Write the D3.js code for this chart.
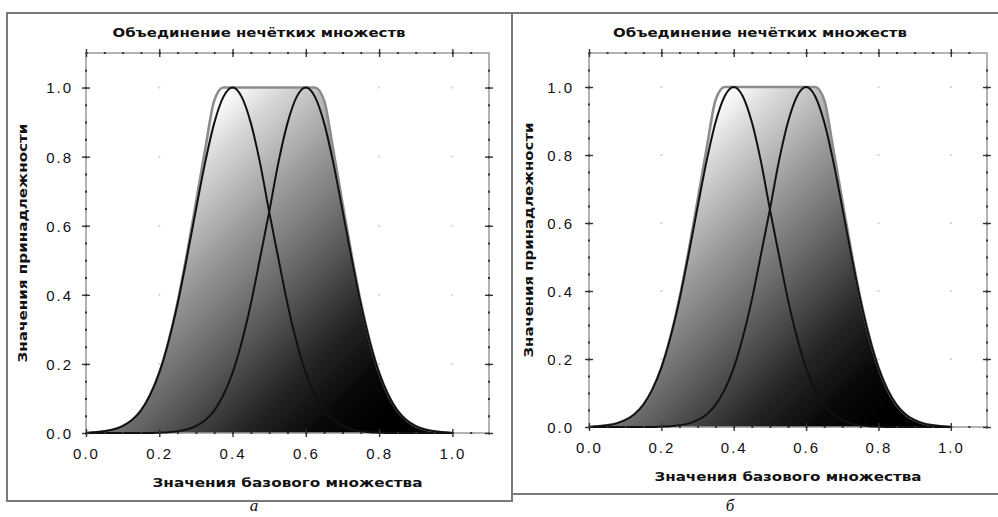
<!DOCTYPE html>
<html>
<head>
<meta charset="utf-8">
<script src="https://cdn.jsdelivr.net/npm/d3@7"></script>
<style>
  body { margin: 0; background: #fff; }
  svg { display: block; }
</style>
</head>
<body>
<svg id="chart" width="998" height="517"></svg>
<script>
// values (step 0.025 along the base set)
var xValues = [0, 0.025, 0.05, 0.075, 0.1, 0.125, 0.15, 0.175, 0.2, 0.225,
               0.25, 0.275, 0.3, 0.325, 0.35, 0.375, 0.4, 0.425, 0.45, 0.475,
               0.5, 0.525, 0.55, 0.575, 0.6, 0.625, 0.65, 0.675, 0.7, 0.725,
               0.75, 0.775, 0.8, 0.825, 0.85, 0.875, 0.9, 0.925, 0.95, 0.975, 1.0];
// set A, peak at 0.4
var setA = [0, 0.002, 0.005, 0.010, 0.020, 0.037, 0.065, 0.110, 0.174, 0.263,
            0.374, 0.506, 0.646, 0.782, 0.897, 0.973, 1.000, 0.973, 0.897, 0.782,
            0.640, 0.506, 0.374, 0.263, 0.174, 0.110, 0.065, 0.037, 0.020, 0.010,
            0.005, 0.002, 0.001, 0, 0, 0, 0, 0, 0, 0, 0];
// set B, peak at 0.6
var setB = [0, 0, 0, 0, 0, 0, 0, 0, 0.001, 0.002,
            0.005, 0.010, 0.020, 0.037, 0.065, 0.110, 0.174, 0.263, 0.374, 0.506,
            0.640, 0.782, 0.897, 0.973, 1.000, 0.973, 0.897, 0.782, 0.646, 0.506,
            0.374, 0.263, 0.174, 0.110, 0.065, 0.037, 0.020, 0.010, 0.005, 0.002, 0];
// union of A and B (shaded region)
var unionAB = [0, 0.002, 0.005, 0.010, 0.020, 0.037, 0.065, 0.110, 0.175, 0.265,
               0.379, 0.516, 0.666, 0.819, 0.962, 1, 1, 1, 1, 1,
               1, 1, 1, 1, 1, 1, 0.962, 0.819, 0.666, 0.516,
               0.379, 0.265, 0.175, 0.110, 0.065, 0.037, 0.020, 0.010, 0.005, 0.002, 0];

var majorTicks = [0.0, 0.2, 0.4, 0.6, 0.8, 1.0];
var minorTicks = [0, 0.05, 0.1, 0.15, 0.2, 0.25, 0.3, 0.35, 0.4, 0.45, 0.5,
                  0.55, 0.6, 0.65, 0.7, 0.75, 0.8, 0.85, 0.9, 0.95, 1.0, 1.05];
var gridValues = [0.2, 0.4, 0.6, 0.8, 1.0];

var titleText = "Объединение нечётких множеств";
var xLabelText = "Значения базового множества";
var yLabelText = "Значения принадлежности";
var captions = ["а", "б"];

// gradient colour stops (light at the upper left, black at the lower right)
var gradStops = [[0, "#fbfbfb"], [0.1, "#d8d8d8"], [0.3, "#9d9d9d"], [0.5, "#666"],
                 [0.72, "#272727"], [0.88, "#080808"], [1, "#000"]];

var svg = d3.select("#chart");

var points = xValues.map(function(x, i) {
    return {x: x, a: setA[i], b: setB[i], u: unionAB[i]};
});

// layout of the two panels
var panels = [
    {left: 86, right: 489, top: 53, bottom: 433, frame: [7, 13, 505, 488],
     titleX: 259, titleW: 293, yLabelX: 22, xLabelW: 270, yLabelW: 239,
     capX: 254, tickOff: 13},
    {left: 589, right: 987, top: 53, bottom: 427, frame: [512, 13, 500, 481],
     titleX: 760, titleW: 294, yLabelX: 528, xLabelW: 267, yLabelW: 235,
     capX: 730, tickOff: 15}
];

var defs = svg.append("defs");

panels.forEach(function(p, k) {
    var x = d3.scaleLinear().domain([0, 1.1]).range([p.left, p.right]);
    var y = d3.scaleLinear().domain([0, 1.1]).range([p.bottom, p.top]);

    // outer frame
    svg.append("rect")
        .attr("x", p.frame[0]).attr("y", p.frame[1])
        .attr("width", p.frame[2]).attr("height", p.frame[3])
        .attr("fill", "none")
        .attr("stroke", "#7a7a7a")
        .attr("stroke-width", 2);

    var g = svg.append("g");

    // faint grid dots at major intersections
    gridValues.forEach(function(gx) {
        gridValues.forEach(function(gy) {
            g.append("rect")
                .attr("x", x(gx) - 1).attr("y", y(gy) - 1)
                .attr("width", 2).attr("height", 2)
                .attr("fill", "#d4d4d4");
        });
    });

    // gradient
    var grad = defs.append("linearGradient")
        .attr("id", "grad" + k)
        .attr("gradientUnits", "userSpaceOnUse")
        .attr("x1", x(0.38)).attr("y1", y(0.97))
        .attr("x2", x(1.035)).attr("y2", y(0.275));
    gradStops.forEach(function(s) {
        grad.append("stop").attr("offset", s[0]).attr("stop-color", s[1]);
    });

    var area = d3.area()
        .x(function(d) { return x(d.x); })
        .y0(y(0))
        .y1(function(d) { return y(d.u); })
        .curve(d3.curveMonotoneX);

    g.append("path")
        .datum(points)
        .attr("d", area)
        .attr("fill", "url(#grad" + k + ")");

    // plot box
    g.append("rect")
        .attr("x", p.left).attr("y", p.top)
        .attr("width", p.right - p.left).attr("height", p.bottom - p.top)
        .attr("fill", "none")
        .attr("stroke", "#9a9a9a")
        .attr("stroke-width", 1.5);

    // union outline
    g.append("path")
        .datum(points)
        .attr("d", d3.line()
            .x(function(d) { return x(d.x); })
            .y(function(d) { return y(d.u); })
            .curve(d3.curveMonotoneX))
        .attr("fill", "none")
        .attr("stroke", "#8c8c8c")
        .attr("stroke-width", 2.6);

    ["a", "b"].forEach(function(key) {
        g.append("path")
            .datum(points)
            .attr("d", d3.line()
                .x(function(d) { return x(d.x); })
                .y(function(d) { return y(d[key]); })
                .curve(d3.curveMonotoneX))
            .attr("fill", "none")
            .attr("stroke", "#111")
            .attr("stroke-width", 2);
    });

    // axes: minor dots and major ticks on all four sides
    function styleAxis(sel, size, vertical) {
        sel.select(".domain").remove();
        sel.selectAll(".tick line")
            .attr("stroke", "#333")
            .attr("stroke-width", size > 2 ? 1.4 : 2)
            .attr(vertical ? "x1" : "y1", -size)
            .attr(vertical ? "x2" : "y2", size);
    }
    var sides = [
        {axis: d3.axisBottom(x), pos: "translate(0," + p.bottom + ")", vertical: false},
        {axis: d3.axisTop(x), pos: "translate(0," + p.top + ")", vertical: false},
        {axis: d3.axisLeft(y), pos: "translate(" + p.left + ",0)", vertical: true},
        {axis: d3.axisRight(y), pos: "translate(" + p.right + ",0)", vertical: true}
    ];
    sides.forEach(function(s) {
        g.append("g")
            .attr("transform", s.pos)
            .call(s.axis.tickValues(minorTicks).tickFormat(""))
            .call(function(a) { styleAxis(a, 1, s.vertical); });
    });

    var bottomAxis = g.append("g")
        .attr("transform", "translate(0," + p.bottom + ")")
        .call(d3.axisBottom(x).tickValues(majorTicks).tickFormat(d3.format(".1f")));
    styleAxis(bottomAxis, 4, false);
    bottomAxis.selectAll("text")
        .attr("y", 26).attr("dy", 0);

    var leftAxis = g.append("g")
        .attr("transform", "translate(" + p.left + ",0)")
        .call(d3.axisLeft(y).tickValues(majorTicks).tickFormat(d3.format(".1f")));
    styleAxis(leftAxis, 4, true);
    leftAxis.selectAll("text")
        .attr("x", -p.tickOff).attr("dy", "0.36em");

    [bottomAxis, leftAxis].forEach(function(a) {
        a.selectAll("text")
            .attr("fill", "#111")
            .style("font-family", "'Liberation Sans', Arial, sans-serif")
            .style("font-size", "15px")
            .style("letter-spacing", "2px");
    });

    g.append("g")
        .attr("transform", "translate(0," + p.top + ")")
        .call(d3.axisTop(x).tickValues(majorTicks).tickFormat(""))
        .call(function(a) { styleAxis(a, 4, false); });
    g.append("g")
        .attr("transform", "translate(" + p.right + ",0)")
        .call(d3.axisRight(y).tickValues(majorTicks).tickFormat(""))
        .call(function(a) { styleAxis(a, 4, true); });

    // texts
    var labelFont = "'DejaVu Sans', sans-serif";
    svg.append("text")
        .attr("x", p.titleX).attr("y", 37)
        .attr("text-anchor", "middle")
        .attr("textLength", p.titleW).attr("lengthAdjust", "spacingAndGlyphs")
        .style("font-family", labelFont).style("font-weight", "bold").style("font-size", "13px")
        .attr("fill", "#111")
        .text(titleText);

    svg.append("text")
        .attr("x", (p.left + p.right) / 2).attr("y", p.bottom + 54)
        .attr("text-anchor", "middle")
        .attr("textLength", p.xLabelW).attr("lengthAdjust", "spacingAndGlyphs")
        .style("font-family", labelFont).style("font-weight", "bold").style("font-size", "13px")
        .attr("fill", "#111")
        .text(xLabelText);

    svg.append("text")
        .attr("transform", "translate(" + (p.yLabelX + 5) + "," + ((p.top + p.bottom) / 2) + ")rotate(-90)")
        .attr("text-anchor", "middle")
        .attr("textLength", p.yLabelW).attr("lengthAdjust", "spacingAndGlyphs")
        .style("font-family", labelFont).style("font-weight", "bold").style("font-size", "13px")
        .attr("fill", "#111")
        .text(yLabelText);

    svg.append("text")
        .attr("x", p.capX).attr("y", 511)
        .attr("text-anchor", "middle")
        .style("font-family", "'Liberation Serif', 'Times New Roman', serif")
        .style("font-style", "italic")
        .style("font-size", "17px")
        .attr("fill", "#111")
        .text(captions[k]);
});
</script>
</body>
</html>
